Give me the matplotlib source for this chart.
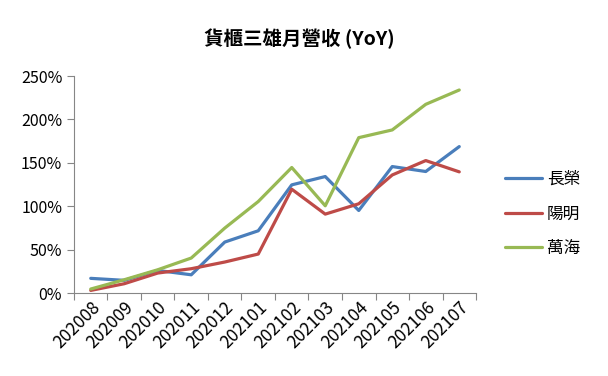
"""
Container shipping monthly revenue YoY chart.
"""

import matplotlib
matplotlib.use('Agg')
import matplotlib.pyplot as plt
from matplotlib.ticker import FuncFormatter, MultipleLocator

plt.rcParams['font.family'] = ['Noto Sans CJK TC', 'DejaVu Sans']

months = ['202008', '202009', '202010', '202011', '202012', '202101',
          '202102', '202103', '202104', '202105', '202106', '202107']
evergreen = [16.9, 14.6, 26.0, 21.0, 58.7, 71.7,
             124.6, 134.2, 95.1, 145.7, 140.0, 168.7]
yangming = [3.0, 10.7, 23.0, 28.0, 35.7, 44.9,
            119.6, 90.9, 102.8, 136.0, 152.6, 139.6]
wanhai = [4.6, 15.3, 26.8, 40.3, 74.8, 105.4,
          144.6, 100.5, 179.0, 187.9, 217.4, 233.9]
names = ['長榮', '陽明', '萬海']
colors = ['#4A7EBB', '#BE4B48', '#98B954']

fig = plt.figure(figsize=(6.08, 3.76), dpi=100)
ax = fig.add_axes([0.1217, 0.2207, 0.6612, 0.5771])  # [left bottom width height]

x = range(len(months))
for vals, name, c in zip([evergreen, yangming, wanhai], names, colors):
    ax.plot(x, vals, color=c, lw=2.3, label=name, solid_capstyle='round')

ax.set_xlim(-0.5, len(months) - 0.5)
ax.set_ylim(0, 250)
ax.yaxis.set_major_locator(MultipleLocator(50))
ax.yaxis.set_major_formatter(FuncFormatter(lambda v, p: '{0:.0f}%'.format(v)))

# category ticks sit between months, labels at centres
ax.set_xticks([i - 0.5 for i in range(len(months) + 1)])
ax.set_xticklabels([])
ax.set_xticks(list(x), minor=True)
ax.set_xticklabels(months, minor=True, rotation=45, ha='right',
                   rotation_mode='anchor', fontsize=12.5)
ax.tick_params(axis='x', which='minor', length=0, pad=4)
ax.tick_params(axis='x', which='major', length=5, color='#868686',
               direction='out')
ax.tick_params(axis='y', length=5, color='#868686', labelsize=11.5)

for side in ['top', 'right']:
    ax.spines[side].set_visible(False)
for side in ['left', 'bottom']:
    ax.spines[side].set_color('#868686')

ax.set_title('貨櫃三雄月營收 (YoY)', fontsize=14, fontweight='bold', pad=22)
ax.title.set_position((0.56, 1.0))

ax.legend(loc='center left', bbox_to_anchor=(1.035, 0.364), frameon=False,
          fontsize=12, handlelength=2.2, labelspacing=1.05, handletextpad=0.3)

fig.savefig('out.png', dpi=100)
